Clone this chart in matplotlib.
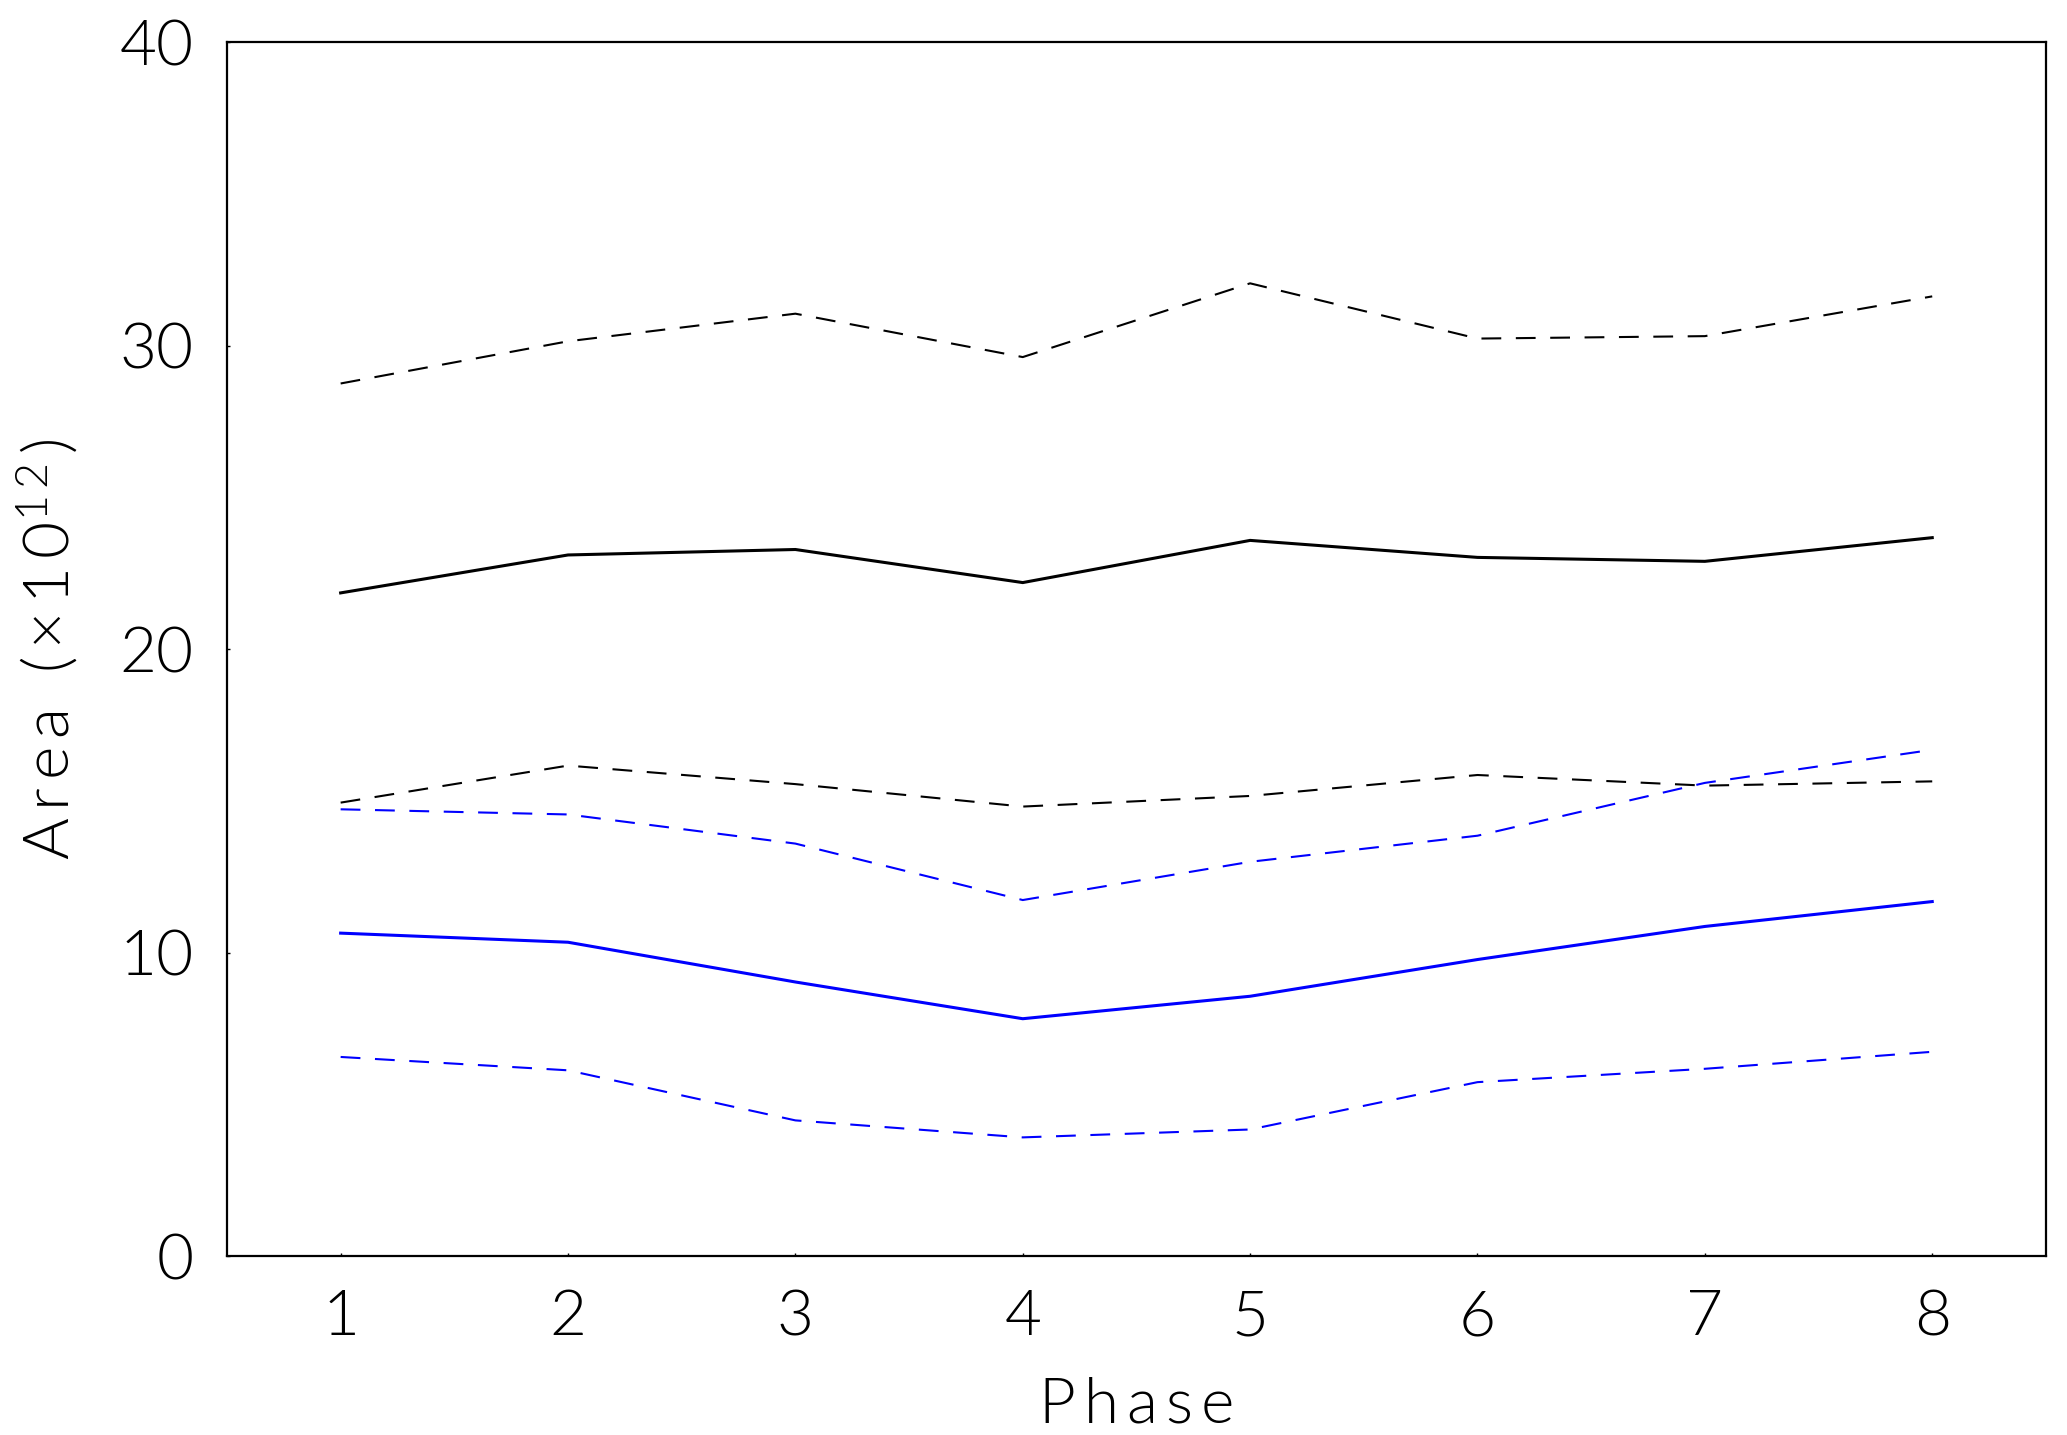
import matplotlib
matplotlib.use("Agg")
import matplotlib.pyplot as plt
from matplotlib import font_manager

phase = [1, 2, 3, 4, 5, 6, 7, 8]

black_upper = [28.75, 30.14, 31.05, 29.62, 32.05, 30.23, 30.31, 31.62]
black_mid = [21.85, 23.10, 23.28, 22.19, 23.58, 23.02, 22.89, 23.67]
black_lower = [14.94, 16.16, 15.55, 14.81, 15.16, 15.85, 15.50, 15.64]

blue_upper = [14.72, 14.55, 13.59, 11.73, 12.99, 13.85, 15.59, 16.68]
blue_mid = [10.64, 10.34, 9.03, 7.82, 8.56, 9.77, 10.86, 11.68]
blue_lower = [6.56, 6.12, 4.47, 3.91, 4.17, 5.73, 6.17, 6.73]

x_ticks = [1, 2, 3, 4, 5, 6, 7, 8]
y_ticks = [0, 10, 20, 30, 40]

# pick a thin font if one is installed, the original uses a hairline vector font
font_family = "DejaVu Sans"
font_weight = 400
for fam in ["Lato", "Inter", "Open Sans", "Roboto", "Noto Sans"]:
    found = [f for f in font_manager.fontManager.ttflist
             if f.name == fam and isinstance(f.weight, int) and f.weight <= 300
             and f.style == "normal"]
    if found:
        font_family = fam
        font_weight = max(f.weight for f in found)
        break

plt.rcParams["font.family"] = [font_family, "DejaVu Sans"]
plt.rcParams["font.weight"] = font_weight
plt.rcParams["axes.labelweight"] = font_weight
plt.rcParams["mathtext.fontset"] = "custom"
plt.rcParams["mathtext.rm"] = f"{font_family}:weight={font_weight}"
plt.rcParams["mathtext.it"] = plt.rcParams["mathtext.rm"]
plt.rcParams["mathtext.default"] = "rm"

fig = plt.figure(figsize=(20.67, 14.35), dpi=100)
ax = fig.add_axes([0.1098, 0.1247, 0.8800, 0.8460])

dash = (0, (9.5, 7))
ax.plot(phase, black_upper, color="black", lw=1.5, linestyle=dash)
ax.plot(phase, black_mid, color="black", lw=2.2)
ax.plot(phase, black_lower, color="black", lw=1.5, linestyle=dash)
ax.plot(phase, blue_upper, color="#0000ff", lw=1.5, linestyle=dash)
ax.plot(phase, blue_mid, color="#0000ff", lw=2.2)
ax.plot(phase, blue_lower, color="#0000ff", lw=1.5, linestyle=dash)

ax.set_xlim(0.5, 8.5)
ax.set_ylim(0, 40)
ax.set_xticks(x_ticks)
ax.set_yticks(y_ticks)
ax.tick_params(direction="in", length=2, width=1, labelsize=46, pad=24)
for s in ax.spines.values():
    s.set_linewidth(1.6)

ts = "\u2009"
ax.set_xlabel(ts.join("Phase"), fontsize=46, labelpad=22, fontweight=font_weight)
ax.set_ylabel(ts.join("Area") + "  " + ts.join("(×10") + r"$^{1\,2}$" + ts + ")",
              fontsize=46, labelpad=28, fontweight=font_weight)

fig.savefig("out.png", dpi=100)
